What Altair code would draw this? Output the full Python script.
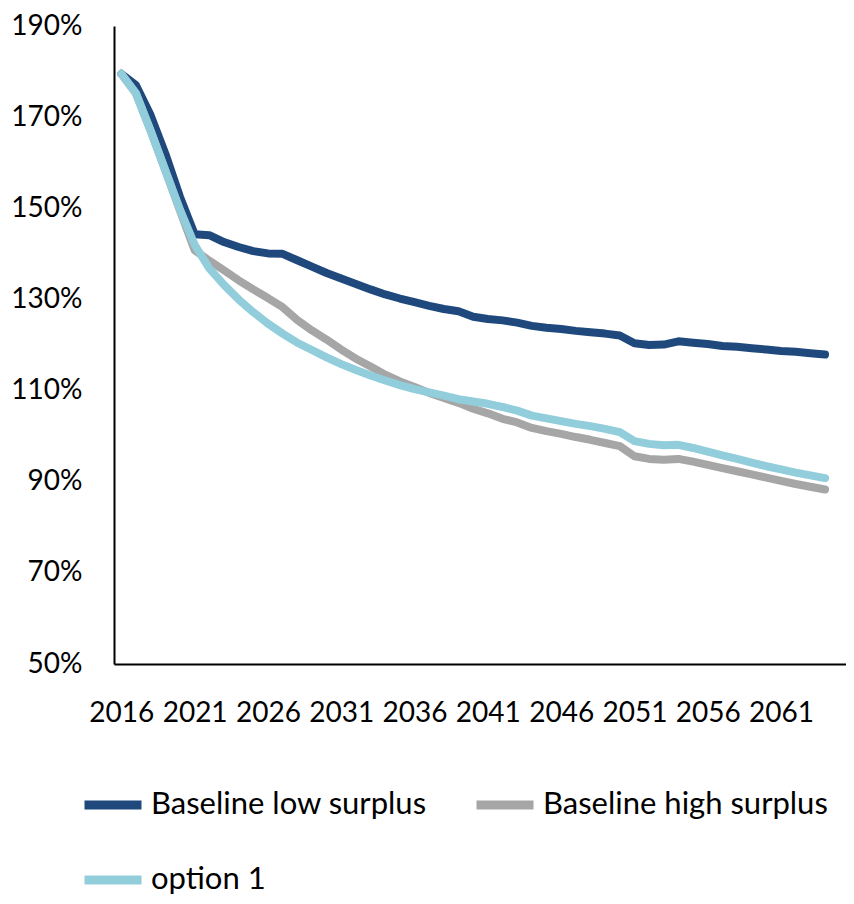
import altair as alt
import pandas as pd

years = list(range(2016, 2065))

series_names = ["Baseline low surplus", "Baseline high surplus", "option 1"]
series_colors = ["#1F497D", "#A6A6A6", "#92CDDC"]

low_surplus = [179.5, 177.0, 170.4, 162.0, 152.5, 144.3, 144.1, 142.6, 141.5, 140.6,
               140.1, 140.0, 138.6, 137.2, 135.8, 134.6, 133.4, 132.2, 131.1, 130.2,
               129.4, 128.6, 127.9, 127.4, 126.2, 125.7, 125.4, 124.9, 124.2, 123.8,
               123.5, 123.1, 122.8, 122.5, 122.1, 120.4, 120.0, 120.1, 120.8, 120.5,
               120.2, 119.8, 119.6, 119.3, 119.0, 118.7, 118.5, 118.2, 117.9]

high_surplus = [179.5, 175.2, 167.0, 158.3, 149.5, 140.8, 138.5, 136.4, 134.2, 132.2,
                130.3, 128.3, 125.5, 123.2, 121.2, 119.0, 117.0, 115.3, 113.5, 112.0,
                110.8, 109.5, 108.4, 107.3, 106.0, 105.0, 103.8, 103.0, 101.8, 101.1,
                100.5, 99.8, 99.2, 98.5, 97.8, 95.6, 95.0, 94.8, 95.0, 94.4,
                93.7, 93.0, 92.3, 91.6, 90.9, 90.2, 89.5, 88.9, 88.3]

option_1 = [179.5, 175.2, 167.0, 158.3, 149.7, 142.0, 136.8, 133.2, 130.0, 127.2,
            124.7, 122.5, 120.5, 118.9, 117.3, 115.8, 114.5, 113.3, 112.2, 111.2,
            110.3, 109.6, 108.9, 108.1, 107.6, 107.1, 106.4, 105.6, 104.5, 103.9,
            103.3, 102.7, 102.2, 101.6, 100.9, 98.9, 98.3, 98.0, 98.1, 97.4,
            96.6, 95.8, 95.0, 94.2, 93.4, 92.7, 92.0, 91.4, 90.8]

y_ticks = [0.5, 0.7, 0.9, 1.1, 1.3, 1.5, 1.7, 1.9]
x_ticks = list(range(2016, 2062, 5))

rows = []
for name, vals in zip(series_names, [low_surplus, high_surplus, option_1]):
    for yr, v in zip(years, vals):
        rows.append({"year": yr, "value": v / 100.0, "series": name})
df = pd.DataFrame(rows)

FONT = "Lato"

chart = alt.Chart(df).mark_line(
    strokeWidth=8, strokeCap="round", strokeJoin="round"
).encode(
    x=alt.X(
        "year:Q",
        scale=alt.Scale(domain=[2015.5, 2065.43], nice=False, zero=False),
        axis=alt.Axis(
            values=x_ticks, format="d", title=None, grid=False, ticks=False,
            labelFont=FONT, labelFontSize=28, labelColor="black",
            labelPadding=35, labelFlush=False, labelOverlap=False,
            domainColor="black", domainWidth=2,
        ),
    ),
    y=alt.Y(
        "value:Q",
        scale=alt.Scale(domain=[0.5, 1.9], nice=False, zero=False),
        axis=alt.Axis(
            values=y_ticks, format=".0%", title=None, grid=False, ticks=False,
            labelFont=FONT, labelFontSize=28, labelColor="black",
            labelPadding=32, labelFlush=False, labelOverlap=False,
            domainColor="black", domainWidth=2,
        ),
    ),
    color=alt.Color(
        "series:N",
        sort=series_names,
        scale=alt.Scale(domain=series_names, range=series_colors),
        legend=alt.Legend(
            title=None, orient="none", legendX=-34, legendY=746,
            direction="horizontal", columns=2, symbolType="stroke",
            symbolSize=3249, symbolStrokeWidth=9, labelFont=FONT,
            labelFontSize=31, labelColor="black", labelLimit=0,
            labelOffset=5, columnPadding=31, rowPadding=24, padding=0,
        ),
    ),
).properties(
    width=732,
    height=638,
    background="white",
    autosize=alt.AutoSizeParams(type="none"),
    padding={"left": 106, "top": 18, "right": 0, "bottom": 236},
).configure_view(stroke=None)

chart.save("out.html", embed_options={"renderer": "svg", "actions": False})
